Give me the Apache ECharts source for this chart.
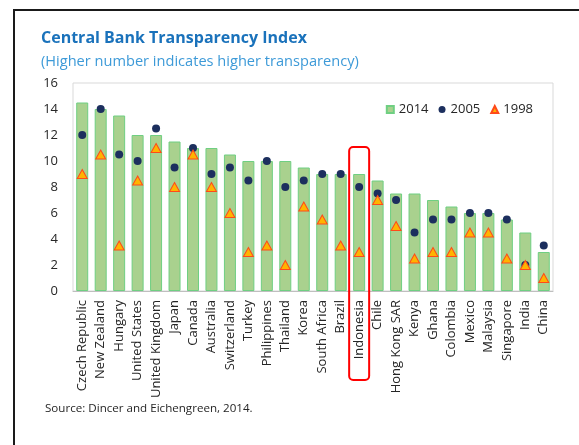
<!DOCTYPE html>
<html>
<head>
<meta charset="utf-8">
<script src="https://cdn.jsdelivr.net/npm/echarts@6/dist/echarts.min.js"></script>
<style>
  html, body { margin: 0; padding: 0; background: #fff; }
  #main { width: 579px; height: 445px; }
</style>
</head>
<body>
<div id="main"></div>
<script>
// countries, ordered by the 2014 score
const countries = ['Czech Republic', 'New Zealand', 'Hungary', 'United States', 'United Kingdom',
  'Japan', 'Canada', 'Australia', 'Switzerland', 'Turkey', 'Philippines', 'Thailand', 'Korea',
  'South Africa', 'Brazil', 'Indonesia', 'Chile', 'Hong Kong SAR', 'Kenya', 'Ghana', 'Colombia',
  'Mexico', 'Malaysia', 'Singapore', 'India', 'China']
const score2014 = [14.5, 14, 13.5, 12, 12, 11.5, 11, 11, 10.5, 10, 10, 10, 9.5,
  9, 9, 9, 8.5, 7.5, 7.5, 7, 6.5, 6, 6, 5.5, 4.5, 3]
const score2005 = [12, 14, 10.5, 10, 12.5, 9.5, 11, 9, 9.5, 8.5, 10, 8, 8.5,
  9, 9, 8, 7.5, 7, 4.5, 5.5, 5.5, 6, 6, 5.5, 2, 3.5]
const score1998 = [9, 10.5, 3.5, 8.5, 11, 8, 10.5, 8, 6, 3, 3.5, 2, 6.5,
  5.5, 3.5, 3, 7, 5, 2.5, 3, 3, 4.5, 4.5, 2.5, 2, 1]
const yTicks = [0, 2, 4, 6, 8, 10, 12, 14, 16]
const highlighted = 'Indonesia'

const FONT = 'Open Sans'
const chart = echarts.init(document.getElementById('main'))

chart.setOption({
  animation: false,
  textStyle: { fontFamily: FONT },
  title: [
    {
      text: 'Central Bank Transparency Index',
      left: 36, top: 25,
      textStyle: { fontFamily: FONT, fontSize: 16, fontWeight: 'bold', color: '#1a72bb' }
    },
    {
      text: '(Higher number indicates higher transparency)',
      left: 36, top: 49,
      textStyle: { fontFamily: FONT, fontSize: 14.6, fontWeight: 'normal', color: '#3d9ad8' }
    },
    {
      text: 'Source: Dincer and Eichengreen, 2014.',
      left: 40, top: 398,
      textStyle: { fontFamily: FONT, fontSize: 11.6, fontWeight: 'normal', color: '#262626' }
    }
  ],
  legend: {
    right: 41, top: 98,
    itemWidth: 7, itemHeight: 7, itemGap: 10,
    textStyle: { fontFamily: FONT, fontSize: 13, color: '#262626' },
    data: [
      { name: '2014', icon: 'rect' },
      { name: '2005', icon: 'circle' },
      { name: '1998', icon: 'triangle' }
    ]
  },
  grid: {
    left: 73, right: 26, top: 83, bottom: 154,
    show: true, borderColor: '#d9d9d9', borderWidth: 1
  },
  xAxis: {
    type: 'category',
    data: countries,
    axisLine: { lineStyle: { color: '#bfbfbf' } },
    axisTick: { show: false },
    axisLabel: { rotate: 90, interval: 0, margin: 9, fontSize: 13, color: '#262626' }
  },
  yAxis: {
    type: 'value',
    min: yTicks[0], max: yTicks[yTicks.length - 1], interval: 2,
    axisLine: { show: false },
    axisTick: { show: false },
    splitLine: { show: false },
    axisLabel: { margin: 15, fontSize: 13, color: '#262626' }
  },
  series: [
    {
      name: '2014', type: 'bar', data: score2014, barWidth: 12,
      itemStyle: { color: '#a9d18e', borderColor: '#6fcf82', borderWidth: 1 }
    },
    {
      name: '2005', type: 'scatter', data: score2005, symbol: 'circle', symbolSize: 8,
      itemStyle: { color: '#1c2f5e', opacity: 1 }, z: 3
    },
    {
      name: '1998', type: 'scatter', data: score1998, symbol: 'triangle', symbolSize: [10, 9],
      itemStyle: { color: '#ffb400', borderColor: '#ff4a1a', borderWidth: 1, opacity: 1 }, z: 4
    }
  ]
})

// red rounded box around the highlighted country, positioned from the axis
const cx = chart.convertToPixel({ xAxisIndex: 0 }, highlighted)
chart.setOption({
  graphic: [
    {
      type: 'rect',
      shape: { x: cx - 10, y: 147, width: 20, height: 233, r: 4 },
      style: { fill: 'none', stroke: '#ff0000', lineWidth: 2 },
      z: 10
    },
    // outer frame of the figure
    {
      type: 'polyline',
      shape: { points: [[14, 445], [14, 10], [579, 10]] },
      style: { fill: 'none', stroke: '#1a1a1a', lineWidth: 2 },
      z: 10
    }
  ]
})
</script>
</body>
</html>
